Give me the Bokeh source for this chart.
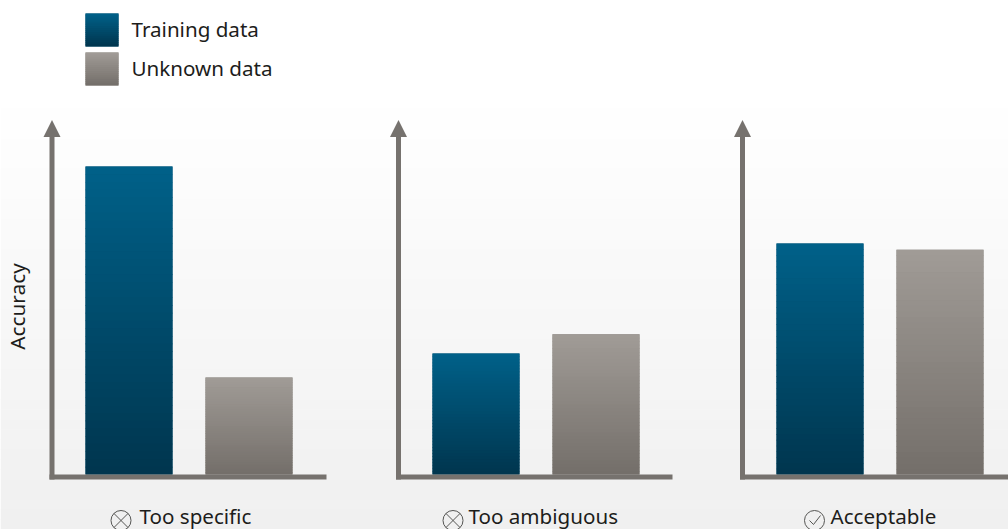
from bokeh.plotting import figure
from bokeh.models import Range1d, Arrow, NormalHead
from bokeh.core.properties import value
from bokeh.embed import file_html
from bokeh.resources import INLINE

FONT = "Noto Sans"
panels = ["Too specific", "Too ambiguous", "Acceptable"]
training = [100.0, 39.3, 75.0]
unknown = [31.5, 45.5, 73.0]
series_names = ["Training data", "Unknown data"]
y_label = "Accuracy"

# layout, in page pixels
W, H = 1008, 529
PX = 3.08            # pixels per accuracy unit
BASE = 474           # page y of zero
axis_x = [51.5, 398, 742]
bar1_x = [85, 432, 776]
bar2_x = [205, 552, 896]
BAR_W = 87
axis_end = [326, 672, 1008]
label_x = [139, 468, 830]
icx = [120.5, 452.5, 814]

def Y(py):
    return (BASE - py) / PX

p = figure(width=W, height=H, output_backend="svg", toolbar_location=None,
           x_range=Range1d(0, W), y_range=Range1d(Y(H), Y(0)),
           min_border=0, outline_line_color=None, background_fill_color="#ffffff",
           border_fill_color="#ffffff")
p.axis.visible = False
p.grid.visible = False

def lerp(a, b, t):
    return "#%02x%02x%02x" % tuple(round(a[i] + (b[i] - a[i]) * t) for i in range(3))

# background gradient
bg_n = 44
bg_top, bg_bot = 88, H
p.quad(left=0, right=W, top=[Y(bg_top + (bg_bot - bg_top) * i / bg_n) for i in range(bg_n)],
       bottom=[Y(bg_top + (bg_bot - bg_top) * (i + 1) / bg_n + 0.6) for i in range(bg_n)],
       fill_color=[lerp((255, 255, 255), (240, 240, 240), i / (bg_n - 1)) for i in range(bg_n)],
       line_color=None)

BLUE = ((0, 96, 136), (0, 54, 79))
GREY = ((160, 155, 150), (116, 111, 106))

def grad_bar(l, w, top, bottom, cols, n):
    h = top - bottom
    p.quad(left=[l], right=[l + w], top=[top], bottom=[bottom], fill_color=lerp(*cols, 0.5), line_color=None)
    p.quad(left=l, right=l + w,
           top=[top - h * i / n for i in range(n)],
           bottom=[max(bottom, top - h * (i + 1) / n - 0.2) for i in range(n)],
           fill_color=[lerp(*cols, i / (n - 1)) for i in range(n)], line_color=None)

for i in range(3):
    grad_bar(bar1_x[i], BAR_W, training[i], 0, BLUE, 40)
    grad_bar(bar2_x[i], BAR_W, unknown[i], 0, GREY, 40)

AXC = "#76726e"
for i in range(3):
    p.segment(x0=[axis_x[i] - 2.5], x1=[axis_end[i]], y0=[Y(476.5)], y1=[Y(476.5)],
              line_color=AXC, line_width=5)
    p.add_layout(Arrow(x_start=axis_x[i], y_start=Y(479), x_end=axis_x[i], y_end=Y(119.5),
                       line_color=AXC, line_width=5,
                       end=NormalHead(size=17, fill_color=AXC, line_color=AXC, line_width=0)))

# legend
for py, cols, name in zip([13, 52], [BLUE, GREY], series_names):
    grad_bar(85, 33, Y(py), Y(py + 33), cols, 16)
    p.text(x=[131], y=[Y(py + 15.5)], text=[name], text_font=value(FONT), text_font_size="20.6px",
           text_color="#1d1d1b", text_baseline="middle", text_align="left")

p.text(x=[16.5], y=[Y(306)], text=[y_label], angle=1.5708, text_font=value(FONT), text_font_size="20.8px",
       text_color="#1d1d1b", text_baseline="middle", text_align="center")

# panel labels
for i in range(3):
    p.text(x=[label_x[i]], y=[Y(515.5)], text=[panels[i]], text_font=value(FONT), text_font_size="20.6px",
           text_color="#1d1d1b", text_baseline="middle", text_align="left")

ICON_Y = Y(520)
p.scatter(x=icx[:2], y=[ICON_Y, ICON_Y], marker="circle_x", size=20, fill_color=None,
          line_color="#555553", line_width=1)
p.scatter(x=icx[2:], y=[ICON_Y], marker="circle", size=20, fill_color=None,
          line_color="#555553", line_width=1)
cx = icx[2]
p.line(x=[cx - 5, cx - 1, cx + 6], y=[Y(520), Y(524), Y(515)], line_color="#555553", line_width=1)

open("out.html", "w").write(file_html(p, INLINE))
